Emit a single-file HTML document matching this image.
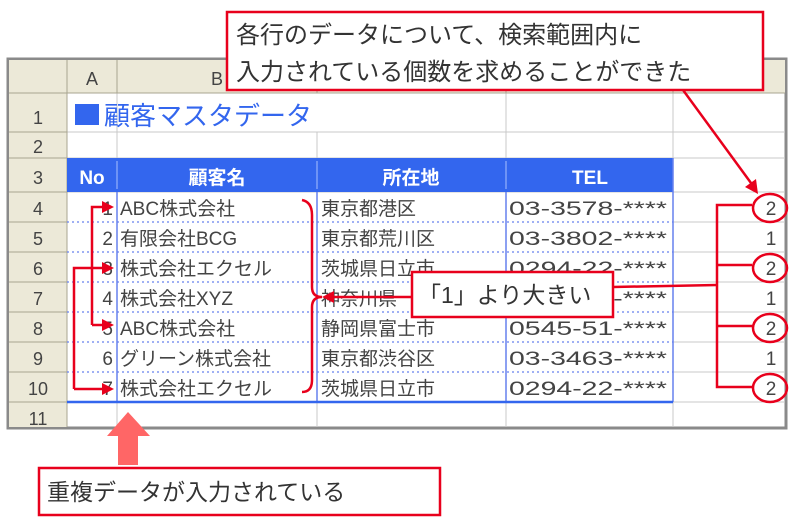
<!DOCTYPE html>
<html><head><meta charset="utf-8"><style>
html,body{margin:0;padding:0;background:#fff;}
svg{display:block;font-family:"Liberation Sans","Noto Sans CJK JP",sans-serif;}
</style></head><body>
<svg width="800" height="522" viewBox="0 0 800 522" xmlns="http://www.w3.org/2000/svg">
<rect x="8" y="59" width="778" height="369" fill="#fff" stroke="#8a8a8a" stroke-width="3"/>
<rect x="9" y="60" width="776" height="33" fill="#ece9d8"/>
<rect x="9" y="60" width="58" height="367" fill="#ece9d8"/>
<g stroke="#c8c8c8" stroke-width="1">
<line x1="67" y1="132" x2="785" y2="132"/><line x1="67" y1="158" x2="785" y2="158"/>
<line x1="67" y1="192" x2="785" y2="192"/>
<line x1="673" y1="222" x2="785" y2="222"/><line x1="673" y1="252" x2="785" y2="252"/>
<line x1="673" y1="282" x2="785" y2="282"/><line x1="673" y1="312" x2="785" y2="312"/>
<line x1="673" y1="342" x2="785" y2="342"/><line x1="673" y1="372" x2="785" y2="372"/>
<line x1="67" y1="402" x2="785" y2="402"/>
<line x1="117" y1="93" x2="117" y2="427"/><line x1="317" y1="132" x2="317" y2="427"/>
<line x1="506" y1="93" x2="506" y2="427"/><line x1="673" y1="93" x2="673" y2="427"/>
</g>
<g stroke="#a8a590" stroke-width="1">
<line x1="9" y1="93" x2="785" y2="93"/><line x1="67" y1="60" x2="67" y2="427"/>
<line x1="117" y1="60" x2="117" y2="93"/><line x1="317" y1="60" x2="317" y2="93"/>
<line x1="506" y1="60" x2="506" y2="93"/><line x1="673" y1="60" x2="673" y2="93"/>
<line x1="9" y1="132" x2="67" y2="132"/><line x1="9" y1="158" x2="67" y2="158"/><line x1="9" y1="192" x2="67" y2="192"/>
<line x1="9" y1="222" x2="67" y2="222"/><line x1="9" y1="252" x2="67" y2="252"/><line x1="9" y1="282" x2="67" y2="282"/>
<line x1="9" y1="312" x2="67" y2="312"/><line x1="9" y1="342" x2="67" y2="342"/><line x1="9" y1="372" x2="67" y2="372"/>
<line x1="9" y1="402" x2="67" y2="402"/>
</g>
<g font-size="18" fill="#444" text-anchor="middle">
<text x="92" y="85">A</text><text x="217" y="85">B</text>
<text x="38" y="124">1</text><text x="38" y="153">2</text><text x="38" y="184">3</text>
<text x="38" y="215">4</text><text x="38" y="245">5</text><text x="38" y="275">6</text>
<text x="38" y="305">7</text><text x="38" y="335">8</text><text x="38" y="365">9</text>
<text x="38" y="395">10</text><text x="38" y="425">11</text>
</g>
<rect x="75" y="104" width="24" height="21" fill="#3366ee"/>
<text x="104" y="125" font-size="26" fill="#3366ee">顧客マスタデータ</text>
<rect x="67" y="158" width="606" height="34" fill="#3366ee"/>
<g stroke="#aac0ff" stroke-width="1"><line x1="117" y1="161" x2="117" y2="189"/><line x1="317" y1="161" x2="317" y2="189"/><line x1="506" y1="161" x2="506" y2="189"/></g>
<g font-size="19" font-weight="bold" fill="#fff" text-anchor="middle">
<text x="92" y="184">No</text><text x="217" y="184">顧客名</text><text x="411" y="184">所在地</text><text x="590" y="184">TEL</text>
</g>
<g stroke="#6680ee" stroke-width="1.3" stroke-dasharray="2,3">
<line x1="67" y1="222" x2="673" y2="222"/><line x1="67" y1="252" x2="673" y2="252"/>
<line x1="67" y1="282" x2="673" y2="282"/><line x1="67" y1="312" x2="673" y2="312"/>
<line x1="67" y1="342" x2="673" y2="342"/><line x1="67" y1="372" x2="673" y2="372"/>
</g>
<g stroke="#6680ee" stroke-width="1.5" fill="none">
<line x1="117" y1="192" x2="117" y2="402"/><line x1="317" y1="192" x2="317" y2="402"/>
<line x1="506" y1="192" x2="506" y2="402"/><line x1="673" y1="158" x2="673" y2="402"/>
</g>
<line x1="67" y1="402" x2="673" y2="402" stroke="#3366ee" stroke-width="2.5"/>
<g font-size="19" fill="#444">
<g text-anchor="end"><text x="113" y="215">1</text><text x="113" y="245">2</text><text x="113" y="275">3</text><text x="113" y="305">4</text><text x="113" y="335">5</text><text x="113" y="365">6</text><text x="113" y="395">7</text></g>
<text x="120" y="215">ABC株式会社</text><text x="120" y="245">有限会社BCG</text><text x="120" y="275">株式会社エクセル</text>
<text x="120" y="305">株式会社XYZ</text><text x="120" y="335">ABC株式会社</text><text x="120" y="365">グリーン株式会社</text><text x="120" y="395">株式会社エクセル</text>
<text x="321" y="215">東京都港区</text><text x="321" y="245">東京都荒川区</text><text x="321" y="275">茨城県日立市</text>
<text x="321" y="305">神奈川県</text><text x="321" y="335">静岡県富士市</text><text x="321" y="365">東京都渋谷区</text><text x="321" y="395">茨城県日立市</text>
</g>
<g font-size="19" fill="#444">
<text x="509" y="215" textLength="158" lengthAdjust="spacingAndGlyphs">03-3578-****</text><text x="509" y="245" textLength="158" lengthAdjust="spacingAndGlyphs">03-3802-****</text><text x="509" y="275" textLength="158" lengthAdjust="spacingAndGlyphs">0294-22-****</text>
<text x="509" y="305" textLength="158" lengthAdjust="spacingAndGlyphs">0294-22-****</text><text x="509" y="335" textLength="158" lengthAdjust="spacingAndGlyphs">0545-51-****</text><text x="509" y="365" textLength="158" lengthAdjust="spacingAndGlyphs">03-3463-****</text><text x="509" y="395" textLength="158" lengthAdjust="spacingAndGlyphs">0294-22-****</text>
</g>
<g font-size="19" fill="#444" text-anchor="middle">
<text x="771" y="215">2</text><text x="771" y="245">1</text><text x="771" y="275">2</text><text x="771" y="305">1</text><text x="771" y="335">2</text><text x="771" y="365">1</text><text x="771" y="395">2</text>
</g>
<g stroke="#e8001c" stroke-width="2.5" fill="none">
<polyline points="92,325 92,207 104,207"/>
<line x1="92" y1="325" x2="104" y2="325"/>
<polyline points="74,389 74,268 104,268"/>
<line x1="74" y1="389" x2="104" y2="389"/>
<path d="M302,200 Q312,202 312,215 L312,287 Q312,297 322,297 Q312,297 312,307 L312,380 Q312,392 302,392"/>
<line x1="412" y1="297" x2="332" y2="297"/>
<line x1="613" y1="287" x2="717" y2="285"/>
<polyline points="752,205 717,205 717,387 752,387"/>
<line x1="717" y1="265" x2="752" y2="265"/><line x1="717" y1="326" x2="752" y2="326"/>
<ellipse cx="770" cy="208" rx="17" ry="14"/><ellipse cx="770" cy="268" rx="17" ry="14"/>
<ellipse cx="770" cy="328" rx="17" ry="14"/><ellipse cx="770" cy="388" rx="17" ry="14"/>
<line x1="683" y1="90" x2="751" y2="183"/>
</g>
<g fill="#e8001c">
<path d="M102,201 L114,207 L102,213 z"/>
<path d="M102,319 L114,325 L102,331 z"/>
<path d="M102,262 L114,268 L102,274 z"/>
<path d="M102,383 L114,389 L102,395 z"/>
<path d="M334,291 L322,297 L334,303 z"/>
<path d="M745,187 L758,194 L756,179 z"/>
</g>
<rect x="227" y="12" width="536" height="78" fill="#fff" stroke="#e8001c" stroke-width="2.5"/>
<text x="236" y="43" font-size="24" fill="#333">各行のデータについて、検索範囲内に</text>
<text x="236" y="80" font-size="24" fill="#333">入力されている個数を求めることができた</text>
<rect x="412" y="272" width="201" height="45" fill="#fff" stroke="#e8001c" stroke-width="2.5"/>
<text x="418" y="303" font-size="23" fill="#333">「1」より大きい</text>
<path d="M118,465 L118,436 L107,436 L128,412 L150,436 L138,436 L138,465 z" fill="#ff6666"/>
<rect x="39" y="468" width="401" height="47" fill="#fff" stroke="#e8001c" stroke-width="2.5"/>
<text x="47" y="500" font-size="23" fill="#333">重複データが入力されている</text>
</svg>
</body></html>
